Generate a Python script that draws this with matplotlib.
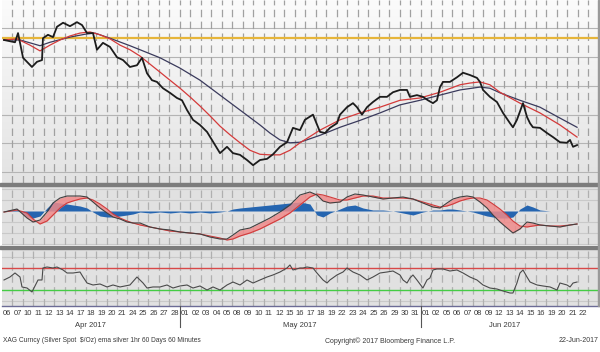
import matplotlib
matplotlib.use("Agg")
import matplotlib.pyplot as plt
import numpy as np
from matplotlib.colors import LinearSegmentedColormap
from matplotlib.patches import Rectangle

# trading days shown on the date axis
apr_days = ["06", "07", "10", "11", "12", "13", "14", "17", "18", "19", "20", "21", "24", "25", "26", "27", "28"]
may_days = ["01", "02", "03", "04", "05", "08", "09", "10", "11", "12", "15", "16", "17", "18", "19",
            "22", "23", "24", "25", "26", "29", "30", "31"]
jun_days = ["01", "02", "05", "06", "07", "08", "09", "12", "13", "14", "15", "16", "19", "20", "21", "22"]
months = ["Apr 2017", "May 2017", "Jun 2017"]

# price (x in trading days since 06-Apr)
price_day = [0.21, 1.26, 1.55, 2.03, 2.88, 3.36, 3.84, 3.93, 4.41, 4.89, 5.27, 5.85, 6.51, 7.18, 7.66, 8.14,
             8.71, 9.09, 9.66, 10.33, 11.0, 11.58, 12.24, 12.91, 13.39, 13.87, 14.34, 14.82, 15.39, 16.06,
             16.73, 17.21, 17.69, 18.26, 18.93, 19.6, 20.07, 20.84, 21.51, 22.08, 22.75, 23.42, 24.0, 24.66,
             25.33, 25.9, 26.57, 27.24, 27.81, 28.48, 28.95, 29.72, 30.39, 30.87, 31.34, 32.01, 32.3, 32.97,
             33.54, 33.92, 34.4, 34.88, 35.45, 36.12, 36.79, 37.36, 38.03, 38.7, 38.98, 39.65, 40.22, 40.7,
             41.18, 41.56, 41.85, 42.14, 42.8, 43.47, 44.05, 44.71, 45.38, 45.67, 45.96, 46.62, 47.29, 47.87,
             48.54, 48.82, 49.2, 49.78, 50.16, 50.45, 50.73, 51.4, 52.07, 52.64, 53.31, 53.98, 54.27, 54.56,
             54.94]
price = [18.30, 18.26, 18.42, 17.99, 17.83, 17.92, 17.95, 18.33, 18.39, 18.35, 18.53, 18.60, 18.54, 18.61,
         18.56, 18.42, 18.42, 18.13, 18.25, 18.18, 18.00, 17.95, 17.83, 17.86, 17.99, 17.72, 17.60, 17.57,
         17.46, 17.38, 17.29, 17.25, 17.08, 16.91, 16.82, 16.70, 16.56, 16.33, 16.44, 16.33, 16.30, 16.21,
         16.12, 16.21, 16.23, 16.31, 16.44, 16.52, 16.77, 16.73, 16.91, 17.00, 16.70, 16.68, 16.77, 16.85,
         17.00, 17.13, 17.20, 17.13, 17.00, 17.13, 17.22, 17.31, 17.31, 17.39, 17.43, 17.43, 17.31, 17.34,
         17.31, 17.25, 17.20, 17.25, 17.48, 17.57, 17.57, 17.65, 17.73, 17.69, 17.64, 17.57, 17.43, 17.31,
         17.22, 17.03, 16.85, 16.78, 16.91, 17.20, 16.96, 16.85, 16.78, 16.77, 16.68, 16.61, 16.52, 16.51,
         16.56, 16.44, 16.47]

ema_fast_day = [0.21, 1.45, 2.69, 3.65, 4.6, 5.56, 6.51, 7.47, 8.42, 9.38, 10.33, 11.29, 12.24, 13.2, 14.15,
                15.11, 16.06, 17.02, 17.97, 18.93, 19.88, 20.84, 21.79, 22.75, 23.7, 24.66, 25.61, 26.57,
                27.52, 28.48, 30.39, 32.3, 34.21, 36.12, 38.03, 39.94, 41.85, 43.76, 44.71, 45.67, 46.62,
                47.58, 49.49, 51.4, 53.31, 54.94]
ema_fast = [18.30, 18.32, 18.21, 18.11, 18.21, 18.30, 18.37, 18.42, 18.44, 18.39, 18.32, 18.21, 18.13, 18.02,
            17.88, 17.74, 17.60, 17.46, 17.31, 17.15, 16.98, 16.80, 16.65, 16.51, 16.38, 16.31, 16.30, 16.30,
            16.38, 16.51, 16.73, 16.91, 17.03, 17.13, 17.25, 17.29, 17.39, 17.52, 17.55, 17.57, 17.52, 17.39,
            17.20, 17.03, 16.82, 16.61]

ema_slow_day = [0.21, 1.74, 3.65, 4.6, 6.51, 7.95, 8.9, 10.33, 12.24, 13.2, 15.11, 17.02, 18.93, 20.84, 22.75,
                24.66, 25.61, 26.57, 27.52, 28.48, 30.39, 32.3, 34.21, 36.12, 38.03, 39.94, 41.85, 43.76,
                45.67, 46.62, 47.58, 49.49, 51.4, 53.31, 54.94]
ema_slow = [18.30, 18.30, 18.20, 18.26, 18.35, 18.40, 18.42, 18.33, 18.20, 18.13, 17.99, 17.81, 17.60, 17.34,
            17.08, 16.82, 16.68, 16.56, 16.51, 16.52, 16.64, 16.78, 16.90, 17.03, 17.17, 17.25, 17.34, 17.43,
            17.48, 17.46, 17.38, 17.25, 17.13, 16.94, 16.78]
level_line = 18.33

# MACD panel (cents)
macd_day = [0.21, 1.45, 2.41, 2.98, 3.65, 4.32, 4.89, 5.56, 6.23, 6.80, 7.47, 8.14, 8.71, 9.38, 10.05, 10.62,
            11.29, 11.96, 12.53, 13.2, 14.15, 15.11, 16.06, 17.02, 17.97, 18.93, 19.88, 20.84, 21.51, 22.08,
            22.75, 23.7, 24.66, 25.61, 26.57, 27.52, 28.48, 29.43, 30.1, 30.68, 31.34, 32.3, 32.97, 33.73,
            34.5, 35.45, 36.41, 37.36, 38.32, 39.27, 40.22, 41.18, 41.85, 42.52, 43.09, 43.76, 44.43, 45.0,
            45.67, 46.34, 46.91, 47.58, 48.25, 48.82, 49.49, 50.16, 50.73, 51.4, 52.36, 53.31, 54.27, 54.94]
macd = [-1, 2, -7, -11, -9, -1, 8, 13, 15, 15, 15, 14, 9, 3, -2, -6, -8, -11, -12, -12, -16, -18, -19, -21,
        -22, -23, -26, -28, -28, -24, -19, -17, -12, -7, -1, 6, 16, 19, 16, 10, 8, 9, 14, 17, 16, 14, 12, 13,
        14, 12, 8, 4, 3, 8, 12, 14, 15, 14, 9, 3, -4, -11, -17, -22, -18, -11, -12, -14, -15, -16, -14, -13]
signal = [-1, 1, -2, -8, -13, -10, -4, 3, 8, 10, 12, 13, 11, 7, 2, -3, -7, -10, -12, -14, -16, -18, -20, -21,
          -22, -23, -25, -27, -29, -28, -25, -22, -18, -13, -8, -2, 6, 14, 17, 16, 14, 11, 11, 13, 15, 15, 13,
          13, 13, 12, 9, 6, 4, 5, 7, 10, 12, 13, 13, 11, 7, 2, -4, -10, -15, -16, -15, -14, -15, -15, -14, -13]
hist = [0, 2, -6, -7, -5, 3, 9, 8, 7, 6, 5, 3, -1, -5, -6, -6, -5, -4, -3, -1, -2, -1, -2, -1, -2, -1, -2, -1,
        0, 2, 3, 4, 5, 6, 7, 8, 9, 7, -4, -6, -2, 2, 5, 6, 3, 1, 1, 0, -2, -4, -1, 1, 1, 2, 2, 1, 0, -1, -3,
        -5, -6, -7, -7, -6, 2, 6, 4, 1, 0, 0, 0, 0]

# RSI panel
rsi_day = [0.21, 0.78, 1.26, 1.74, 1.93, 2.41, 2.88, 3.46, 3.84, 3.93, 4.32, 4.89, 5.27, 5.85, 6.23, 6.80,
           7.47, 7.76, 8.14, 8.71, 9.38, 10.05, 10.62, 11.29, 12.24, 12.91, 13.49, 13.87, 14.44, 15.11, 15.78,
           16.35, 17.02, 17.69, 18.26, 18.93, 19.6, 20.17, 20.84, 21.51, 22.08, 22.75, 23.42, 24.0, 24.66,
           25.33, 25.9, 26.57, 27.24, 27.52, 27.81, 28.48,
           28.77, 29.15, 29.72, 30.1, 30.68, 31.06, 31.34, 32.01, 32.59, 32.97, 33.54, 34.21, 34.88, 35.45,
           36.12, 36.79, 37.36, 38.03, 38.32, 38.7, 38.98, 39.27, 39.65, 40.22, 40.61, 40.89, 41.18, 41.56,
           42.14, 42.8, 43.47, 44.05, 44.71, 45.38, 45.96, 46.62, 47.29, 47.87, 48.54, 48.82, 49.2, 49.49,
           49.78, 50.16, 50.45, 51.12, 51.69, 52.36, 53.03, 53.31, 53.98, 54.27, 54.56, 54.94]
rsi = [48.2, 53.6, 60.9, 53.6, 35.5, 33.6, 26.4, 48.2, 48.2, 70, 71.8, 70, 71.8, 66.4, 60.9, 60.9, 62.7,
       53.6, 42.7, 39.1, 40.9, 35.5, 39.1, 35.5, 39.1, 53.6, 42.7, 33.6, 35.5, 35.5, 39.1, 33.6, 37.3, 39.1,
       33.6, 37.3, 30, 35.5, 30, 39.1, 44.5, 39.1, 48.2, 42.7, 48.2, 53.6, 57.3, 62.7, 70, 75.5, 66.4, 70,
       70, 71.8, 70, 60.9, 48.2, 42.7, 48.2, 57.3, 62.7, 70, 62.7, 57.3, 48.2, 53.6, 60.9, 62.7, 64.5, 57.3,
       48.2, 42.7, 51.8, 57.3, 48.2, 33.6, 48.2, 51.8, 66.4, 68.2, 68.2, 64.5, 66.4, 60.9, 53.6, 48.2, 39.1,
       33.6, 31.8, 28.2, 24.5, 24.5, 42.7, 60.9, 66.4, 53.6, 44.5, 39.1, 37.3, 35.5, 30, 42.7, 39.1, 35.5,
       42.7, 44.5]
rsi_high, rsi_low = 70, 30

FONT = ["Liberation Sans", "DejaVu Sans"]
TXT = "#3a3a3a"
W, H = 600, 352
XL, XR = 1.8, 598.6
NDAYS = 57

fig = plt.figure(figsize=(6, 3.52), dpi=100, facecolor="white")


def panel(top, bottom):
    return fig.add_axes([XL / W, 1 - bottom / H, (XR - XL) / W, (bottom - top) / H])


def vgrid(ax, color):
    for d in range(1, NDAYS):
        ax.axvline(d, color=color, lw=0.9, ls=(0, (6, 3.5)), zorder=1)


# --- price panel
ax1 = panel(0, 183)
ax1.set_xlim(0, NDAYS)
ax1.set_ylim(15.81, 18.996)
cmap = LinearSegmentedColormap.from_list("bg", ["#e3e3e3", "#efefef", "#fbfbfb"])
ax1.imshow(np.linspace(0, 1, 100).reshape(-1, 1), extent=[0, 1, 0, 1], transform=ax1.transAxes,
           cmap=cmap, aspect="auto", origin="lower", zorder=0)
for lv in [16.0, 16.5, 17.0, 17.5, 18.0, 18.5]:
    ax1.axhline(lv, color="#b4b4b4", lw=0.8, zorder=1)
vgrid(ax1, "#a0a0a0")
ax1.axhline(level_line, color="#e6b53a", lw=1.6, zorder=2)
ax1.plot(ema_slow_day, ema_slow, color="#3a3a5c", lw=0.9, zorder=3)
ax1.plot(ema_fast_day, ema_fast, color="#d43a3a", lw=0.9, zorder=3)
ax1.plot(price_day, price, color="#1c1c1c", lw=1.3, zorder=4)

# --- MACD panel
ax2 = panel(187, 245)
ax2.set_xlim(0, NDAYS)
ax2.set_ylim(-34, 24)
ax2.set_facecolor("#e1e1e1")
for lv in [-33, -22, -11, 11, 22]:
    ax2.axhline(lv, color="#c9c9c9", lw=0.8, zorder=1)
vgrid(ax2, "#b0b0b0")
ax2.fill_between(macd_day, 0, hist, color="#2565b0", lw=0, zorder=2)
ax2.fill_between(macd_day, macd, signal, color="#f08a8a", alpha=0.85, lw=0, zorder=3)
ax2.plot(macd_day, signal, color="#d03c3c", lw=0.8, zorder=4)
ax2.plot(macd_day, macd, color="#404040", lw=0.8, zorder=4)

# --- RSI panel
ax3 = panel(250, 306)
ax3.set_xlim(0, NDAYS)
ax3.set_ylim(0.9, 102.7)
ax3.set_facecolor("#e1e1e1")
for lv in [10, 90]:
    ax3.axhline(lv, color="#c9c9c9", lw=0.8, zorder=1)
vgrid(ax3, "#b0b0b0")
ax3.axhline(rsi_high, color="#d84848", lw=1.0, zorder=2)
ax3.axhline(rsi_low, color="#44cc44", lw=1.0, zorder=2)
ax3.plot(rsi_day, rsi, color="#4a4a4a", lw=0.8, zorder=3)

for ax in (ax1, ax2, ax3):
    ax.set_xticks([])
    ax.set_yticks([])
    for s in ax.spines.values():
        s.set_visible(False)
ax3.spines["bottom"].set_visible(True)
ax3.spines["bottom"].set_color("#6c6c96")
ax3.spines["bottom"].set_linewidth(1.0)

# separator bars between panels
for top in (183, 246):
    fig.patches.append(Rectangle((0, 1 - (top + 3) / H), 1, 3 / H, transform=fig.transFigure,
                                 color="#7c7c7c", zorder=5))
fig.patches.append(Rectangle((XR / W - 0.001, 1 - 306 / H), 0.002, 306 / H, transform=fig.transFigure,
                             color="#9a9a9a", zorder=5))

# --- date axis
ax4 = panel(306, 332)
ax4.set_xlim(0, NDAYS)
ax4.set_ylim(0, 1)
ax4.axis("off")
labels = apr_days + may_days + jun_days
for i, lab in enumerate(labels):
    ax4.text(i + 0.5, 0.72, lab, ha="center", va="center", fontsize=5.5, family=FONT, color=TXT)
bounds = [0, len(apr_days), len(apr_days) + len(may_days), len(labels)]
for b in bounds[1:3]:
    ax4.axvline(b, ymin=0.2, ymax=1, color="#555555", lw=0.8)
for m, a, b in zip(months, bounds[:-1], bounds[1:]):
    ax4.text((a + b) / 2, 0.25, m, ha="center", va="center", fontsize=5.5, family=FONT, color=TXT)

# --- footer
fig.text(3 / W, 1 - 341 / H, "XAG Curncy (Silver Spot  $/Oz) ema silver 1hr 60 Days 60 Minutes",
         ha="left", va="center", fontsize=4.8, family=FONT, color=TXT)
fig.text(390 / W, 1 - 341 / H, "Copyright\u00a9 2017 Bloomberg Finance L.P.",
         ha="center", va="center", fontsize=5, family=FONT, color=TXT)
fig.text(598 / W, 1 - 341 / H, "22-Jun-2017", ha="right", va="center", fontsize=5, family=FONT, color=TXT)

fig.savefig("out.png", dpi=100, facecolor="white")
